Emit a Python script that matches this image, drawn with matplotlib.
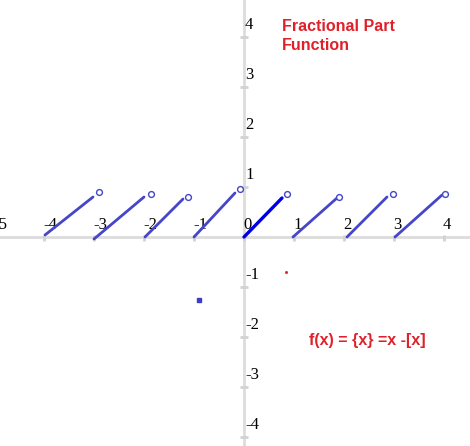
"""Fractional part function {x} = x - [x], hand-drawn style graph."""

import matplotlib.pyplot as plt

# --- Data --------------------------------------------------------------------
seg_x0 = [-3.98, -3.0, -1.98, -1.0, 0.0, 0.98, 2.06, 3.02]
seg_y0 = [0.04, -0.04, 0.0, 0.0, 0.0, 0.0, 0.0, 0.0]
seg_x1 = [-3.02, -2.0, -1.22, -0.18, 0.76, 1.86, 2.86, 3.96]
seg_y1 = [0.80, 0.80, 0.76, 0.88, 0.78, 0.78, 0.80, 0.84]
circle_x = [-2.9, -1.86, -1.12, -0.08, 0.86, 1.9, 2.98, 4.02]
circle_y = [0.90, 0.86, 0.80, 0.96, 0.86, 0.80, 0.86, 0.86]

x_ticks = [-5, -4, -3, -2, -1, 0, 1, 2, 3, 4]
y_ticks = [4, 3, 2, 1, -1, -2, -3, -4]

stray_blue = (-0.9, -1.26)
stray_red = (0.84, -0.7)

# --- Plot --------------------------------------------------------------------
fig = plt.figure(figsize=(4.7, 4.46), dpi=100)
ax = fig.add_axes([0, 0, 1, 1])
ax.set_xlim(-4.88, 4.52)
ax.set_ylim(-4.18, 4.74)
ax.axis("off")

axis_col = "#dcdcdc"
ax.axhline(0, color=axis_col, lw=2.0, zorder=1)
ax.axvline(0, color=axis_col, lw=2.0, zorder=1)
ax.plot(x_ticks, [-0.02] * len(x_ticks), ls="none", marker="|",
        ms=5, mew=2.0, color="#d2d2d2", zorder=1)
ax.plot([0.0] * len(y_ticks), y_ticks, ls="none", marker="_",
        ms=6, mew=2.0, color="#d2d2d2", zorder=1)

serif = dict(family="Liberation Serif", size=12, color="black")
for k in x_ticks:
    ax.text(k - 0.02, 0.08, str(k), ha="left", va="bottom", **serif)
for k in y_ticks:
    ax.text(0.02, k + 0.08, str(k), ha="left", va="bottom", **serif)

for x0, y0, x1, y1 in zip(seg_x0, seg_y0, seg_x1, seg_y1):
    main = x0 == 0.0
    ax.plot([x0, x1], [y0, y1], color="#0000e6" if main else "#4646c8",
            lw=2.4 if main else 2.0, solid_capstyle="round", zorder=3)
ax.plot(circle_x, circle_y, ls="none", marker="o", ms=4.2, mfc="white",
        mec="#4646c8", mew=1.0, zorder=4)

ax.plot(*stray_blue, marker="s", ms=2.2, color="#3c3cc8", ls="none")
ax.plot(*stray_red, marker="s", ms=1.0, color="#e0202a", ls="none")

red = dict(family="Liberation Sans", weight="bold", size=11.5, color="#e0202a")
ax.text(0.76, 4.36, "Fractional Part\nFunction", ha="left", va="top",
        linespacing=1.35, **red)
ax.text(1.30, -2.06, "f(x) = {x} =x -[x]", ha="left", va="center", **red)

fig.savefig("out.png", dpi=100)
